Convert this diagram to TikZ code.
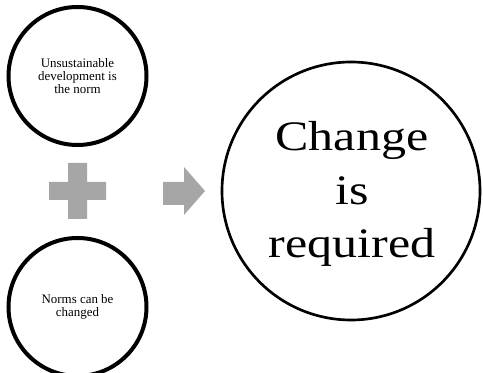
\documentclass[tikz,border=0pt]{standalone}
\usepackage{fontspec}
\setmainfont{Liberation Serif}
\begin{document}
\begin{tikzpicture}[x=0.75pt,y=-0.75pt,
  smallcircle/.style={circle,draw=black,line width=3pt,minimum size=103.5pt,inner sep=0pt,
    align=center,font=\fontsize{9.7}{9.8}\selectfont},
  bigcircle/.style={circle,draw=black,line width=2pt,minimum size=193.5pt,inner sep=0pt},
  bigtext/.style={align=center,inner sep=0pt,yscale=0.84,transform shape,
    font=\fontsize{37.5}{47.8}\selectfont},
  symbolfill/.style={fill=black!35,draw=none}]
  \useasboundingbox (0,0) rectangle (483,373);

  % premises
  \node[smallcircle] (norm) at (77.5,76) {Unsustainable\\development is\\the norm};
  \node[smallcircle] (changeable) at (77.5,307) {Norms can be\\changed};

  % conclusion, with its text set slightly condensed in height
  \node[bigcircle] (result) at (351,191) {};
  \node[bigtext] (resulttext) at (352,194) {Change\\is\\required};

  % plus sign between the premises
  \fill[symbolfill] (68,163) -- (87,163) -- (87,182) -- (106,182) -- (106,200) -- (87,200)
    -- (87,219) -- (68,219) -- (68,200) -- (49,200) -- (49,182) -- (68,182) -- cycle;

  % arrow towards the conclusion
  \fill[symbolfill] (163,182) -- (184,182) -- (184,167) -- (205,191) -- (184,215)
    -- (184,205) -- (163,205) -- cycle;
\end{tikzpicture}
\end{document}
